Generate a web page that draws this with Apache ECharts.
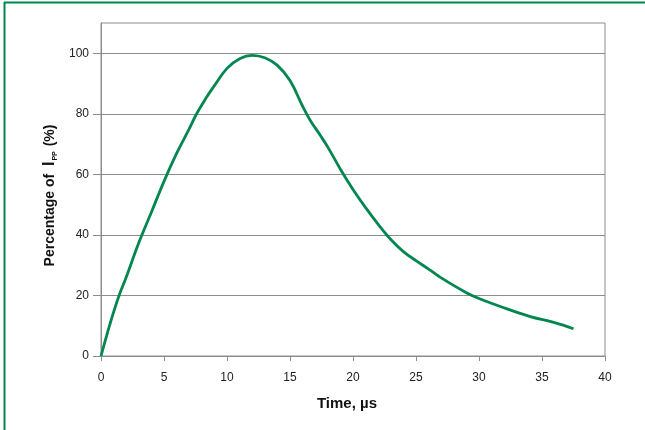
<!DOCTYPE html>
<html>
<head>
<meta charset="utf-8">
<script src="https://cdn.jsdelivr.net/npm/echarts@6/dist/echarts.min.js"></script>
<style>
html,body{margin:0;padding:0;background:#fff;}
#chart{width:645px;height:430px;}
</style>
</head>
<body>
<div id="chart"></div>
<script>
var timeUs = [0, 0.5, 1, 1.5, 2, 3, 4, 5, 6, 7, 7.6, 8.4, 9, 10, 11, 12, 13, 14, 15, 16, 16.6, 17.4, 18, 19, 20, 21, 22, 23, 24, 25, 26, 27, 29, 30, 32, 34, 36, 37.5];
var percentIpp = [0, 7.5, 14.5, 20.7, 26, 37.4, 47.5, 57.7, 66.9, 75, 80.1, 85.6, 89.3, 95, 98.2, 99.3, 98.5, 96, 91, 82.5, 77.9, 72.9, 69, 61.7, 55, 49, 43.5, 38.5, 34.5, 31.5, 28.7, 25.8, 20.9, 19, 15.9, 13.1, 11, 9];
var xTicks = [0, 5, 10, 15, 20, 25, 30, 35, 40];
var yTicks = [0, 20, 40, 60, 80, 100];

var seriesData = timeUs.map(function (t, i) { return [t, percentIpp[i]]; });
var chart = echarts.init(document.getElementById('chart'), null, {renderer: 'canvas'});
var font = 'Liberation Sans, Arial, sans-serif';
var gray = '#8c8c8c';
chart.setOption({
  animation: false,
  backgroundColor: '#fff',
  grid: {left: 101, right: 40, top: 23, bottom: 74, show: true, borderColor: gray, borderWidth: 1},
  graphic: [
    {type: 'line', shape: {x1: 4, y1: 2.5, x2: 645, y2: 2.5}, style: {stroke: '#00864f', lineWidth: 2}},
    {type: 'line', shape: {x1: 4.5, y1: 2, x2: 4.5, y2: 430}, style: {stroke: '#00864f', lineWidth: 2}}
  ],
  xAxis: {
    type: 'value', min: xTicks[0], max: xTicks[xTicks.length - 1], interval: 5,
    name: 'Time, µs', nameLocation: 'middle', nameGap: 40,
    nameTextStyle: {fontFamily: font, fontWeight: 'bold', fontSize: 15, color: '#111', padding: [0, 12, 0, 0]},
    axisLine: {show: true, lineStyle: {color: gray}},
    axisTick: {show: true, length: 5, lineStyle: {color: gray}},
    axisLabel: {fontFamily: font, fontSize: 12, color: '#222', margin: 16},
    splitLine: {show: false}
  },
  yAxis: {
    type: 'value', min: 0, max: 110, interval: 20,
    name: 'Percentage of  {big|I}{sub|PP} (%)', nameLocation: 'middle', nameGap: 40, nameRotate: 90,
    nameTextStyle: {fontFamily: font, fontWeight: 'bold', fontSize: 14, color: '#111', padding: [0, 12, 0, 0],
      rich: {
        big: {fontFamily: font, fontWeight: 'bold', fontSize: 16, color: '#111'},
        sub: {fontFamily: font, fontWeight: 'bold', fontSize: 7, color: '#111', verticalAlign: 'bottom', padding: [7, 1, 0, 1]}
      }},
    axisLine: {show: true, lineStyle: {color: gray}},
    axisTick: {show: true, length: 8, customValues: yTicks, lineStyle: {color: gray}},
    axisLabel: {fontFamily: font, fontSize: 12, color: '#222', margin: 12, customValues: yTicks},
    splitLine: {show: true, lineStyle: {color: gray, width: 1}}
  },
  series: [{
    type: 'line', data: seriesData, smooth: 0.4, showSymbol: false,
    lineStyle: {color: '#00864f', width: 2.8}
  }]
});
</script>
</body>
</html>
